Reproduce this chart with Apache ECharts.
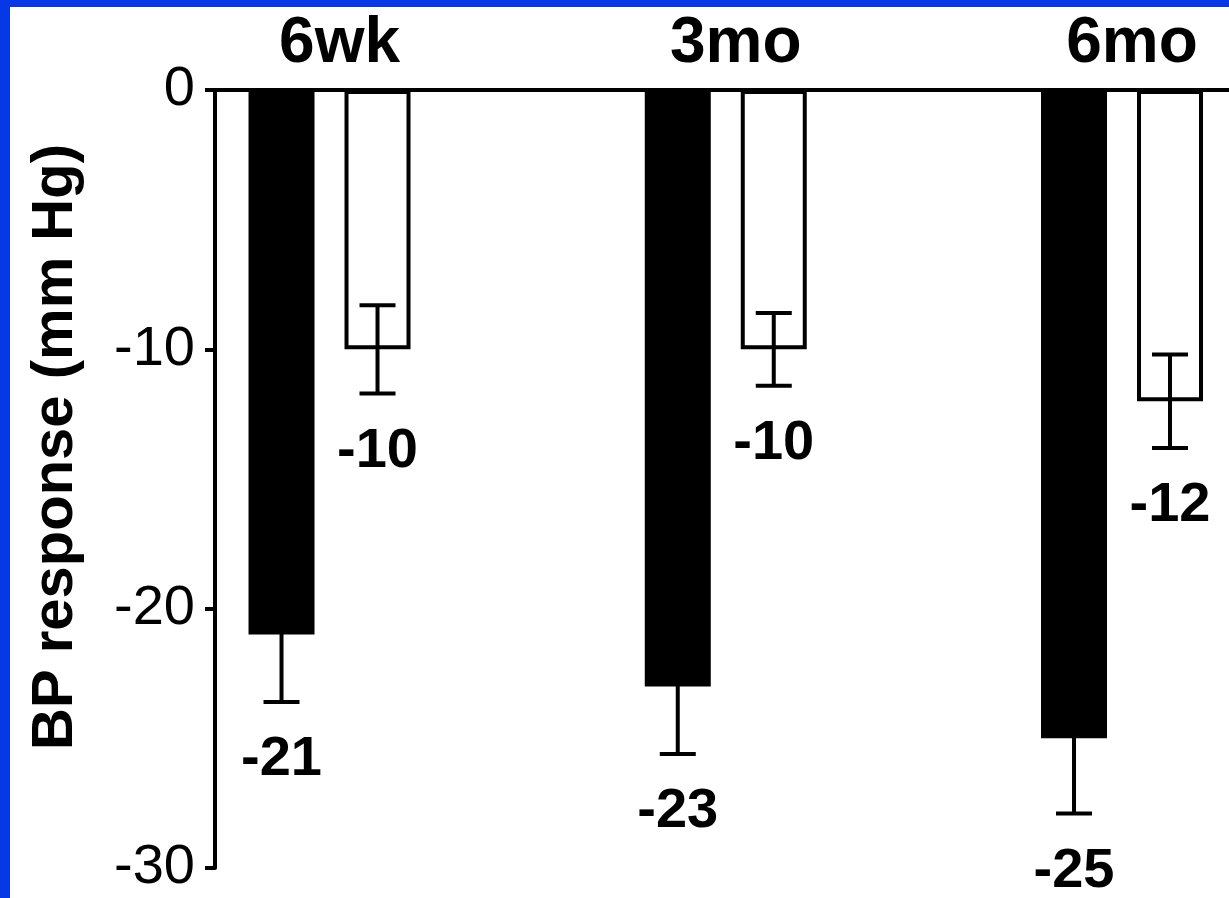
<!DOCTYPE html>
<html>
<head>
<meta charset="utf-8">
<script src="https://cdn.jsdelivr.net/npm/echarts@6/dist/echarts.min.js"></script>
<style>
  html, body { margin: 0; padding: 0; background: #0638e6; width: 1229px; height: 898px; overflow: hidden; }
  #chart { position: absolute; left: 10px; top: 7px; width: 1219px; height: 891px; background: #ffffff; }
</style>
</head>
<body>
<div id="chart"></div>
<script>
// Time points (one group of two bars per time point)
const categories = ['6wk', '3mo', '6mo'];
// Mean BP response (mm Hg), filled bars and open bars
const filledValues = [-21, -23, -25];
const openValues = [-10, -10, -12];
// Error-bar half lengths (mm Hg)
const filledErrors = [2.6, 2.6, 2.9];
const openErrors = [1.7, 1.4, 1.8];
// Y-axis range and tick step
const yMin = -30, yMax = 0, yStep = 10;

const FONT = '"Liberation Sans", Arial, Helvetica, sans-serif';
const BAR_W = 66;
const BAR_GAP = 30;
const HALF_PAIR = (BAR_W + BAR_GAP) / 2;
const CAP = 18;
const LINE_W = 4;

const filledData = categories.map((c, i) => [i, filledValues[i]]);
const openData = categories.map((c, i) => [i, openValues[i]]);
const filledErrData = categories.map((c, i) => [i, filledValues[i], filledErrors[i]]);
const openErrData = categories.map((c, i) => [i, openValues[i], openErrors[i]]);

// Error bar (mean ± half length) with the value printed underneath
function errorRenderer(shift) {
  return function (params, api) {
    const x = api.value(0), v = api.value(1), e = api.value(2);
    const hi = api.coord([x, v + e]);
    const lo = api.coord([x, v - e]);
    const cx = hi[0] + shift;
    const st = { stroke: '#000', lineWidth: LINE_W };
    return {
      type: 'group',
      children: [
        { type: 'line', shape: { x1: cx, y1: hi[1], x2: cx, y2: lo[1] }, style: st },
        { type: 'line', shape: { x1: cx - CAP, y1: hi[1], x2: cx + CAP, y2: hi[1] }, style: st },
        { type: 'line', shape: { x1: cx - CAP, y1: lo[1], x2: cx + CAP, y2: lo[1] }, style: st },
        {
          type: 'text',
          x: cx, y: lo[1] + 30,
          style: {
            text: String(v),
            fill: '#000',
            font: 'bold 56px ' + FONT,
            align: 'center',
            verticalAlign: 'top'
          }
        }
      ]
    };
  };
}

const chart = echarts.init(document.getElementById('chart'), null, { renderer: 'canvas' });
chart.setOption({
  animation: false,
  backgroundColor: '#ffffff',
  grid: { left: 205, right: 0, top: 83, bottom: 30, containLabel: false },
  xAxis: {
    type: 'value',
    position: 'top',
    min: -0.289,
    max: 2.270,
    axisLine: { show: true, onZero: true, lineStyle: { color: '#000', width: LINE_W } },
    axisTick: { show: false },
    splitLine: { show: false },
    axisLabel: {
      customValues: [0, 1, 2],
      formatter: v => categories[Math.round(v)],
      color: '#000',
      fontFamily: FONT,
      fontWeight: 'bold',
      fontSize: 64,
      margin: 14,
      padding: [0, 0, 0, 20]
    }
  },
  yAxis: {
    type: 'value',
    min: yMin,
    max: yMax,
    interval: yStep,
    name: 'BP response (mm Hg)',
    nameLocation: 'middle',
    nameGap: 130,
    nameTextStyle: { color: '#000', fontFamily: FONT, fontWeight: 'bold', fontSize: 58, padding: [0, 0, 0, 64] },
    axisLine: { show: true, onZero: false, lineStyle: { color: '#000', width: LINE_W } },
    axisTick: { show: true, length: 10, lineStyle: { color: '#000', width: LINE_W } },
    splitLine: { show: false },
    axisLabel: { color: '#000', fontFamily: FONT, fontSize: 56, margin: 20 }
  },
  series: [
    {
      type: 'bar',
      data: filledData,
      barWidth: BAR_W,
      barGap: (BAR_GAP / BAR_W * 100) + '%',
      itemStyle: { color: '#000' },
      z: 2
    },
    {
      type: 'bar',
      data: openData,
      barWidth: BAR_W,
      barGap: (BAR_GAP / BAR_W * 100) + '%',
      itemStyle: { color: '#fff', borderColor: '#000', borderWidth: LINE_W },
      z: 2
    },
    {
      type: 'custom',
      data: filledErrData,
      encode: { x: 0, y: 1 },
      renderItem: errorRenderer(-HALF_PAIR),
      z: 3
    },
    {
      type: 'custom',
      data: openErrData,
      encode: { x: 0, y: 1 },
      renderItem: errorRenderer(HALF_PAIR),
      z: 3
    }
  ]
});
</script>
</body>
</html>
